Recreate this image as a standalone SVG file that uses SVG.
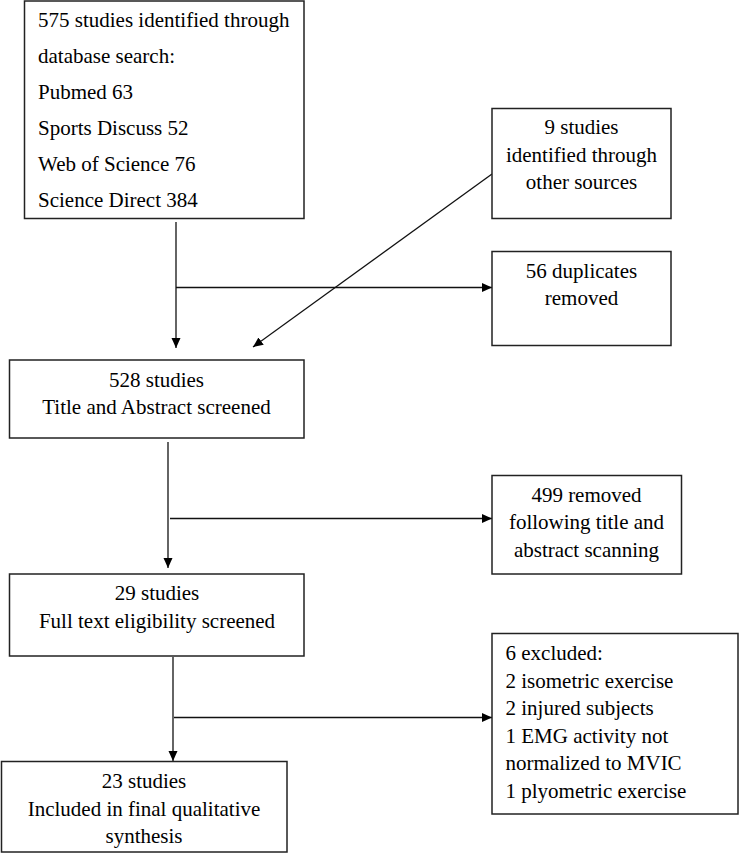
<svg xmlns="http://www.w3.org/2000/svg" width="739" height="854" viewBox="0 0 739 854">
<defs>
<marker id="ah" viewBox="0 0 10 10" refX="10" refY="5" markerWidth="10" markerHeight="10" markerUnits="userSpaceOnUse" orient="auto">
<path d="M0,0.5 L10,5 L0,9.5 Z" fill="#000"/>
</marker>
<style>
.box{fill:#fff;stroke:#222;stroke-width:1.5}
text{font-family:"Liberation Serif","Times New Roman",serif;font-size:21px;fill:#000}
.c{text-anchor:middle}
.ar{stroke:#111;stroke-width:1.3;fill:none;marker-end:url(#ah)}
</style>
</defs>
<g id="connectors">
<path class="ar" d="M176,222 V348"/>
<path class="ar" d="M176,287.5 H492"/>
<path class="ar" d="M492,174 L253,347"/>
<path class="ar" d="M168,442 V568"/>
<path class="ar" d="M170,518.5 H492"/>
<path class="ar" d="M173,657 V761"/>
<path class="ar" d="M174,717.5 H492"/>
</g>
<g id="n1">
<rect class="box" x="24.5" y="1" width="279.5" height="217.5"/>
<text x="38" y="27">575 studies identified through</text>
<text x="38" y="63">database search:</text>
<text x="38" y="99">Pubmed 63</text>
<text x="38" y="135">Sports Discuss 52</text>
<text x="38" y="171">Web of Science 76</text>
<text x="38" y="207">Science Direct 384</text>
</g>
<g id="n2">
<rect class="box" x="492" y="108.5" width="179" height="110"/>
<text class="c" x="581.5" y="133.5">9 studies</text>
<text class="c" x="581.5" y="161.5">identified through</text>
<text class="c" x="581.5" y="189">other sources</text>
</g>
<g id="n3">
<rect class="box" x="492" y="251.5" width="179" height="94"/>
<text class="c" x="581.5" y="277.5">56 duplicates</text>
<text class="c" x="581.5" y="305">removed</text>
</g>
<g id="n4">
<rect class="box" x="9.5" y="360" width="294.5" height="78"/>
<text class="c" x="156.5" y="386.5">528 studies</text>
<text class="c" x="156.5" y="414">Title and Abstract screened</text>
</g>
<g id="n5">
<rect class="box" x="492" y="475.5" width="189.5" height="98.5"/>
<text class="c" x="586.5" y="501.5">499 removed</text>
<text class="c" x="586.5" y="529">following title and</text>
<text class="c" x="586.5" y="556.5">abstract scanning</text>
</g>
<g id="n6">
<rect class="box" x="9.5" y="574" width="294.5" height="82"/>
<text class="c" x="157" y="600">29 studies</text>
<text class="c" x="157" y="627.5">Full text eligibility screened</text>
</g>
<g id="n7">
<rect class="box" x="492" y="633.5" width="246" height="180.5"/>
<text x="505.5" y="660">6 excluded:</text>
<text x="505.5" y="687.5">2 isometric exercise</text>
<text x="505.5" y="715">2 injured subjects</text>
<text x="505.5" y="742.5">1 EMG activity not</text>
<text x="505.5" y="770">normalized to MVIC</text>
<text x="505.5" y="797.5">1 plyometric exercise</text>
</g>
<g id="n8">
<rect class="box" x="1.5" y="761.5" width="285.5" height="90.5"/>
<text class="c" x="144" y="788">23 studies</text>
<text class="c" x="144" y="816">Included in final qualitative</text>
<text class="c" x="144" y="843">synthesis</text>
</g>
</svg>
